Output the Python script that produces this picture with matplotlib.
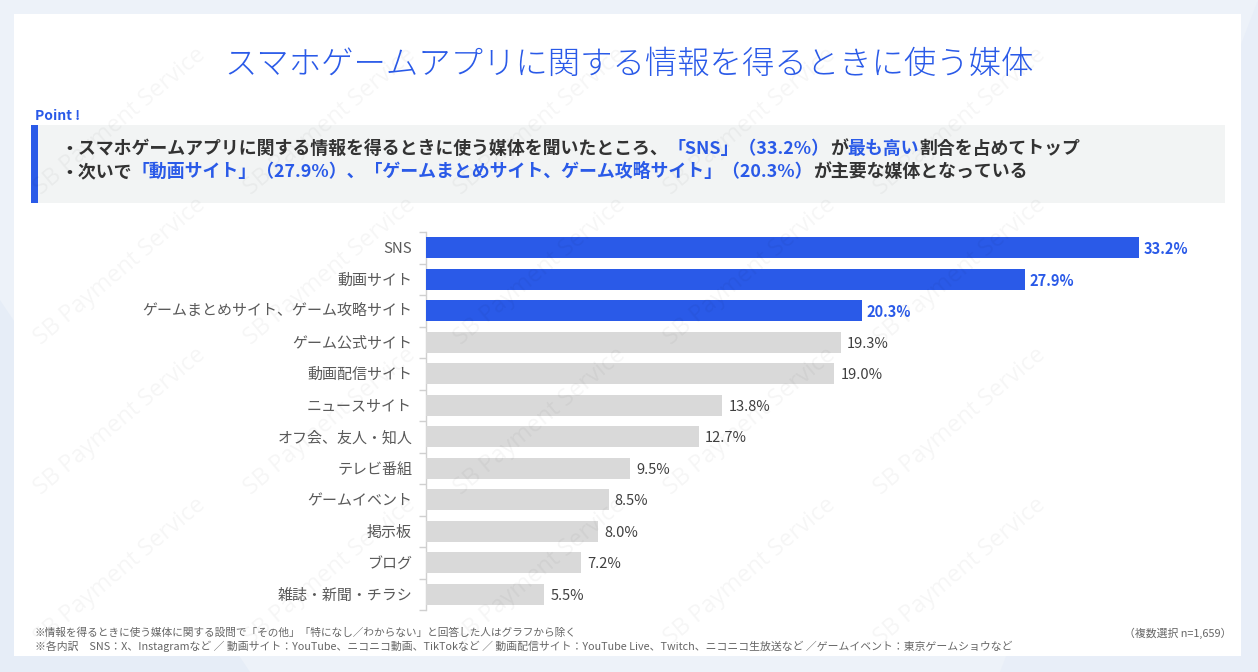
import matplotlib
matplotlib.use("Agg")
import matplotlib.pyplot as plt
from matplotlib.patches import Rectangle, Polygon

plt.rcParams['font.family'] = ['Noto Sans CJK JP', 'DejaVu Sans']

# ---------------- data ----------------
categories = ["SNS", "動画サイト", "ゲームまとめサイト、ゲーム攻略サイト", "ゲーム公式サイト",
              "動画配信サイト", "ニュースサイト", "オフ会、友人・知人", "テレビ番組",
              "ゲームイベント", "掲示板", "ブログ", "雑誌・新聞・チラシ"]
values = [33.2, 27.9, 20.3, 19.3, 19.0, 13.8, 12.7, 9.5, 8.5, 8.0, 7.2, 5.5]
n_highlight = 3

title = "スマホゲームアプリに関する情報を得るときに使う媒体"
point_label = "Point !"
line1 = [("・スマホゲームアプリに関する情報を得るときに使う媒体を聞いたところ、", "dark"),
         ("「SNS」（33.2%）", "blue"), ("が", "dark"), ("最も高い", "blue"),
         ("割合を占めてトップ", "dark")]
line2 = [("・次いで", "dark"),
         ("「動画サイト」（27.9%）、「ゲームまとめサイト、ゲーム攻略サイト」（20.3%）", "blue"),
         ("が主要な媒体となっている", "dark")]
note1 = "※情報を得るときに使う媒体に関する設問で「その他」「特になし／わからない」と回答した人はグラフから除く"
note2 = ("※各内訳　SNS：X、Instagramなど ／ 動画サイト：YouTube、ニコニコ動画、TikTokなど ／ "
         "動画配信サイト：YouTube Live、Twitch、ニコニコ生放送など ／ゲームイベント：東京ゲームショウなど")
sample_note = "（複数選択 n=1,659）"
watermark = "SB Payment Service"

# ---------------- style ----------------
W, H = 1258, 672
BLUE = "#2a5ae8"
GRAY = "#d9d9d9"
DARK = "#333333"
colmap = {"blue": BLUE, "dark": DARK}

fig = plt.figure(figsize=(W / 100, H / 100), dpi=100)
fig.patch.set_facecolor("#edf2f9")

def fx(px):
    return px / W

def fy(py):
    return 1 - py / H

# background shapes
fig.patches.append(Polygon([[fx(0), fy(300)], [fx(0), fy(672)], [fx(250), fy(672)]],
                           closed=True, transform=fig.transFigure, facecolor="#e6edf7",
                           edgecolor="none", zorder=0))
fig.patches.append(Polygon([[fx(1258), fy(0)], [fx(1258), fy(672)], [fx(1000), fy(672)]],
                           closed=True, transform=fig.transFigure, facecolor="#e8eef8",
                           edgecolor="none", zorder=0))
# white card
fig.patches.append(Rectangle((fx(14), fy(656)), fx(1241 - 14), (656 - 14) / H,
                             transform=fig.transFigure, facecolor="white", edgecolor="none", zorder=1))
# point box
fig.patches.append(Rectangle((fx(31), fy(203)), fx(1225 - 31), (203 - 125) / H,
                             transform=fig.transFigure, facecolor="#f2f4f4", edgecolor="none", zorder=2))
fig.patches.append(Rectangle((fx(31), fy(203)), fx(7), (203 - 125) / H,
                             transform=fig.transFigure, facecolor=BLUE, edgecolor="none", zorder=3))

# title
fig.text(fx(629), fy(65), title, ha="center", va="center", fontsize=23.3, color=BLUE,
         fontweight="light", zorder=5)
fig.text(fx(35), fy(116), point_label, ha="left", va="center", fontsize=10, color=BLUE,
         fontweight="bold", zorder=5)

renderer = fig.canvas.get_renderer()

def rich(x, y, parts, size):
    cx = x
    for s, c in parts:
        t = fig.text(fx(cx), fy(y), s, ha="left", va="center", fontsize=size,
                     color=colmap[c], fontweight="bold", zorder=5)
        cx += t.get_window_extent(renderer).width

rich(60, 149, line1, 12.9)
rich(60, 172, line2, 12.9)

# ---------------- bar chart ----------------
px_per_unit = 21.48
xmax = 37.0
ax_left, ax_top, ax_bottom = 426, 232, 610
ax = fig.add_axes([fx(ax_left), fy(ax_bottom), fx(xmax * px_per_unit), (ax_bottom - ax_top) / H])
ax.set_facecolor("none")
ax.set_zorder(4)

ypos = list(range(len(categories)))
colors = [BLUE if i < n_highlight else GRAY for i in ypos]
ax.barh(ypos, values, height=0.67, color=colors, zorder=3)
ax.set_xlim(0, xmax)
ax.set_ylim(len(categories) - 0.5, -0.5)

for i, v in enumerate(values):
    hl = i < n_highlight
    ax.annotate(f"{v:.1f}%", (v, i), xytext=(3 if hl else 4.5, -1), textcoords="offset points",
                ha="left", va="center", fontsize=10.5,
                color=BLUE if hl else "#404040", fontweight="bold" if hl else "normal")

ax.set_yticks(ypos)
ax.set_yticklabels(categories, fontsize=10.8, color="#595959")
ax.tick_params(axis="y", which="major", length=0, pad=10)
ax.set_yticks([i - 0.5 for i in range(len(categories) + 1)], minor=True)
ax.tick_params(axis="y", which="minor", length=5, color="#d0d0d0", width=1)
ax.set_xticks([])
for s in ["top", "right", "bottom"]:
    ax.spines[s].set_visible(False)
ax.spines["left"].set_color("#d0d0d0")
ax.spines["left"].set_linewidth(1)

# notes
fig.text(fx(35), fy(633), note1, ha="left", va="center", fontsize=7.7, color="#666666", zorder=5)
fig.text(fx(35), fy(646), note2, ha="left", va="center", fontsize=7.8, color="#666666", zorder=5)
fig.text(fx(1232), fy(633), sample_note, ha="right", va="center", fontsize=7.8, color="#666666", zorder=5)

# watermark (only fully inside the picture)
for row in range(0, 4):
    for col in range(0, 6):
        x = 30 + col * 210
        y = 200 + row * 150
        if x + 190 > W or y > H - 10:
            continue
        fig.text(fx(x), fy(y), watermark, rotation=40, ha="left", va="bottom",
                 fontsize=17, color="black", alpha=0.04, zorder=10,
                 family=["Open Sans", "DejaVu Sans"])

fig.savefig("out.png", dpi=100, facecolor=fig.get_facecolor())
